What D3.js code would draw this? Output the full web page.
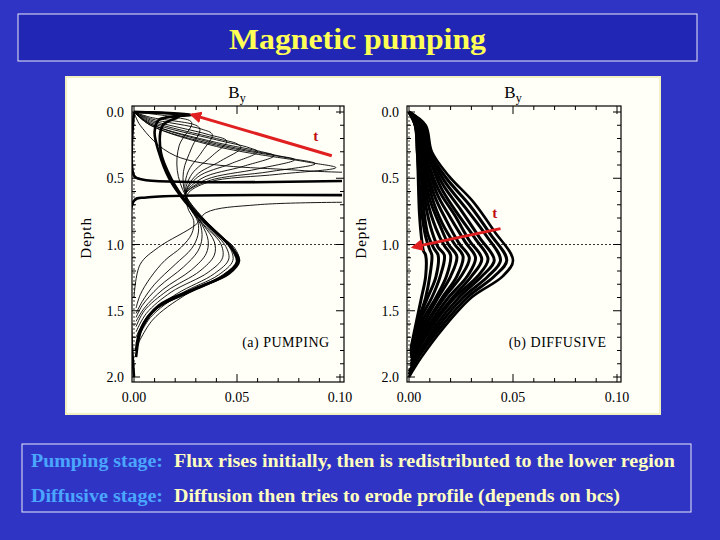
<!DOCTYPE html>
<html><head><meta charset="utf-8">
<script src="https://cdn.jsdelivr.net/npm/d3@7"></script>
<style>body{margin:0;background:#3034c4}</style></head>
<body><svg id="c" width="720" height="540"></svg>
<script>
const title = "Magnetic pumping";
const xTicks = [0, 0.05, 0.10];
const yTicks = [0, 0.5, 1.0, 1.5, 2.0];
const noteLabels = ["Pumping stage:", "Diffusive stage:"];
const noteTexts = ["Flux rises initially, then is redistributed to the lower region",
                   "Diffusion then tries to erode profile (depends on bcs)"];
const noteWidths = [501, 446];
// panel (a): initial profile (thick) and pumping curves [By, depth]
const pumpThick = [
  [[0,0],[0,0.48],[0.004,0.51],[0.12,0.515]],
  [[0.12,0.63],[0.006,0.645],[0,0.67],[0,2.0]],
  [[0,0],[0.028,0.02],[0.012,0.06],[0.01,0.15],[0.012,0.3],[0.017,0.5],[0.025,0.68],[0.036,0.85],[0.046,1.0],[0.051,1.12],[0.046,1.22],[0.03,1.33],[0.012,1.46],[0.004,1.62],[0.001,1.85]],
  [[0,0],[0.022,0.03],[0.014,0.1],[0.013,0.3],[0.018,0.5],[0.026,0.69],[0.037,0.87],[0.047,1.02],[0.05,1.13],[0.044,1.23],[0.028,1.35],[0.011,1.48],[0.003,1.65],[0.001,1.8]]
];
const pumpThin = [
  [[0,0],[0.003,0.1],[0.02,0.33],[0.08,0.44],[0.12,0.46]],
  [[0.12,0.68],[0.06,0.7],[0.035,0.76],[0.03,0.85],[0.012,1.02],[0.003,1.15],[0,1.4]],
  [[0,0],[0.008,0.1],[0.04,0.26],[0.085,0.38],[0.098,0.42],[0.07,0.47],[0.036,0.53],[0.026,0.62],[0.026,0.72],[0.029,0.82],[0.028,0.92],[0.023,1.02],[0.015,1.12],[0.008,1.25],[0.003,1.38],[0.001,1.48]],
  [[0,0],[0.008,0.1],[0.04,0.25],[0.076,0.35],[0.088,0.39],[0.066,0.45],[0.036,0.52],[0.025,0.62],[0.027,0.72],[0.031,0.83],[0.031,0.93],[0.028,1.03],[0.02,1.15],[0.01,1.3],[0.004,1.43],[0.001,1.52]],
  [[0,0],[0.008,0.09],[0.04,0.24],[0.07,0.33],[0.078,0.36],[0.06,0.43],[0.035,0.51],[0.025,0.62],[0.027,0.72],[0.032,0.84],[0.033,0.95],[0.031,1.05],[0.024,1.17],[0.012,1.32],[0.004,1.46],[0.001,1.55]],
  [[0,0],[0.008,0.09],[0.04,0.23],[0.062,0.3],[0.068,0.33],[0.053,0.41],[0.033,0.5],[0.025,0.62],[0.028,0.73],[0.033,0.85],[0.036,0.97],[0.035,1.07],[0.028,1.19],[0.014,1.34],[0.005,1.48],[0.001,1.58]],
  [[0,0],[0.008,0.08],[0.04,0.21],[0.056,0.27],[0.06,0.3],[0.047,0.39],[0.031,0.49],[0.025,0.62],[0.028,0.74],[0.034,0.86],[0.039,0.98],[0.039,1.08],[0.032,1.2],[0.016,1.35],[0.005,1.5],[0.001,1.62]],
  [[0,0],[0.008,0.07],[0.04,0.2],[0.05,0.24],[0.052,0.27],[0.042,0.37],[0.03,0.48],[0.025,0.62],[0.029,0.75],[0.035,0.87],[0.042,0.99],[0.043,1.1],[0.036,1.21],[0.018,1.36],[0.006,1.52],[0.001,1.66]],
  [[0,0],[0.008,0.06],[0.036,0.17],[0.045,0.22],[0.038,0.33],[0.028,0.47],[0.025,0.62],[0.03,0.76],[0.037,0.89],[0.044,1.0],[0.046,1.11],[0.039,1.22],[0.021,1.37],[0.007,1.53],[0.001,1.7]],
  [[0,0],[0.008,0.05],[0.033,0.13],[0.038,0.17],[0.033,0.3],[0.026,0.46],[0.025,0.62],[0.031,0.77],[0.039,0.9],[0.046,1.01],[0.048,1.12],[0.041,1.23],[0.023,1.37],[0.008,1.55],[0.001,1.74]],
  [[0,0],[0.008,0.04],[0.03,0.1],[0.032,0.13],[0.028,0.27],[0.024,0.45],[0.025,0.62],[0.032,0.78],[0.04,0.91],[0.048,1.02],[0.05,1.13],[0.043,1.23],[0.025,1.38],[0.009,1.57],[0.001,1.78]],
  [[0,0],[0.02,0.04],[0.028,0.08],[0.022,0.25],[0.021,0.44],[0.025,0.63],[0.033,0.79],[0.041,0.92],[0.049,1.03],[0.051,1.13],[0.044,1.24],[0.027,1.36],[0.01,1.5],[0.002,1.7]]
];
// panel (b): diffusive curves [By, depth]
const diffCurves = [
  [[0,0],[0.008,0.1],[0.011,0.3],[0.019,0.48],[0.031,0.68],[0.041,0.9],[0.05,1.12],[0.045,1.24],[0.03,1.4],[0.016,1.64],[0.006,1.85],[0,2.0]],
  [[0,0],[0.007,0.1],[0.01,0.3],[0.018,0.5],[0.029,0.7],[0.039,0.92],[0.047,1.12],[0.041,1.24],[0.028,1.4],[0.015,1.63],[0.005,1.84],[0,1.98]],
  [[0,0],[0.007,0.1],[0.01,0.3],[0.017,0.52],[0.027,0.72],[0.037,0.93],[0.044,1.12],[0.038,1.24],[0.026,1.4],[0.014,1.62],[0.005,1.83],[0,1.96]],
  [[0,0],[0.006,0.1],[0.009,0.3],[0.016,0.54],[0.025,0.74],[0.034,0.95],[0.041,1.12],[0.035,1.24],[0.024,1.4],[0.013,1.61],[0.005,1.82],[0.001,1.94]],
  [[0,0],[0.006,0.1],[0.009,0.3],[0.015,0.56],[0.023,0.76],[0.032,0.96],[0.038,1.11],[0.033,1.24],[0.022,1.4],[0.012,1.6],[0.004,1.81],[0.001,1.92]],
  [[0,0],[0.006,0.1],[0.008,0.3],[0.014,0.58],[0.022,0.78],[0.029,0.97],[0.035,1.11],[0.03,1.24],[0.021,1.4],[0.011,1.6],[0.004,1.8],[0.001,1.9]],
  [[0,0],[0.005,0.1],[0.008,0.3],[0.013,0.6],[0.02,0.8],[0.027,0.98],[0.032,1.1],[0.028,1.24],[0.019,1.4],[0.01,1.6],[0.004,1.79],[0.001,1.88]],
  [[0,0],[0.005,0.1],[0.007,0.3],[0.012,0.62],[0.018,0.82],[0.024,0.99],[0.029,1.1],[0.025,1.24],[0.017,1.4],[0.009,1.59],[0.004,1.78],[0.001,1.86]],
  [[0,0],[0.005,0.1],[0.007,0.3],[0.011,0.64],[0.016,0.84],[0.022,1.0],[0.026,1.09],[0.023,1.24],[0.016,1.4],[0.009,1.58],[0.003,1.77],[0.001,1.85]],
  [[0,0],[0.004,0.1],[0.006,0.3],[0.01,0.66],[0.015,0.86],[0.019,1.0],[0.023,1.09],[0.02,1.24],[0.014,1.4],[0.008,1.57],[0.003,1.76],[0.001,1.84]],
  [[0,0],[0.004,0.1],[0.006,0.3],[0.009,0.68],[0.013,0.88],[0.017,1.01],[0.02,1.08],[0.018,1.24],[0.013,1.4],[0.007,1.56],[0.003,1.75],[0.001,1.83]],
  [[0,0],[0.004,0.1],[0.005,0.3],[0.008,0.7],[0.011,0.9],[0.014,1.02],[0.017,1.08],[0.015,1.24],[0.011,1.4],[0.006,1.55],[0.003,1.74],[0.001,1.82]],
  [[0,0],[0.003,0.1],[0.005,0.3],[0.007,0.72],[0.009,0.92],[0.012,1.03],[0.014,1.08],[0.013,1.24],[0.009,1.4],[0.005,1.55],[0.002,1.73],[0.001,1.81]],
  [[0,0],[0.003,0.1],[0.004,0.3],[0.006,0.74],[0.008,0.94],[0.01,1.04],[0.011,1.08],[0.01,1.24],[0.008,1.4],[0.005,1.55],[0.002,1.72],[0.001,1.8]],
  [[0,0],[0.003,0.1],[0.004,0.3],[0.005,0.76],[0.006,0.95],[0.007,1.05],[0.008,1.08],[0.008,1.24],[0.006,1.4],[0.004,1.55],[0.002,1.7],[0.001,1.78]]
];
const arrows = [{from:[0.096,0.33], to:[0.028,0.02], lab:[0.087,0.22]},
                {from:[0.044,0.88], to:[0.002,1.02], lab:[0.04,0.8]}];

const svg = d3.select("#c");
svg.append("rect").attr("x",18).attr("y",14).attr("width",679).attr("height",47).attr("fill","#2226b4").attr("stroke","#e8e8f8").attr("stroke-width",1);
svg.append("text").attr("x",229).attr("y",49).attr("textLength",257).attr("lengthAdjust","spacingAndGlyphs").attr("font-family","Liberation Serif").attr("font-weight","bold").attr("font-size",30).attr("fill","#ffff55").text(title);
svg.append("rect").attr("x",66).attr("y",77).attr("width",594).attr("height",337).attr("fill","#fffff8").attr("stroke","#f0f0c0").attr("stroke-width",2);

const defs = svg.append("defs");
defs.append("marker").attr("id","ah").attr("viewBox","0 0 10 10").attr("refX",8).attr("refY",5)
  .attr("markerWidth",4).attr("markerHeight",4).attr("orient","auto")
  .append("path").attr("d","M0,0L10,5L0,10z").attr("fill","#e02020");

function panel(x0, x1, name, lab, draw) {
  const y0 = 112, y1 = 377;
  const x = d3.scaleLinear().domain([0,0.1]).range([x0,x1]);
  const y = d3.scaleLinear().domain([0,2]).range([y0,y1]);
  const g = svg.append("g");
  const id = "clip"+name;
  defs.append("clipPath").attr("id",id).append("rect").attr("x",x0-2).attr("y",y0-6).attr("width",x1-x0+4).attr("height",y1-y0+11);
  const bx0 = x0-2, bx1 = x1+4, by0 = y0-6, by1 = y1+5;
  g.append("rect").attr("x",bx0).attr("y",by0).attr("width",bx1-bx0).attr("height",by1-by0).attr("fill","none").attr("stroke","#000").attr("stroke-width",1.2);
  g.append("line").attr("x1",x(0)).attr("x2",x(0)).attr("y1",y(0)).attr("y2",y(2)).attr("stroke","#000").attr("stroke-dasharray","2,2").attr("stroke-width",0.8);
  g.append("line").attr("x1",x(0)).attr("x2",bx1).attr("y1",y(1)).attr("y2",y(1)).attr("stroke","#000").attr("stroke-dasharray","2,2").attr("stroke-width",0.8);
  const tk = g.append("g").attr("stroke","#000").attr("stroke-width",1);
  d3.range(0,2.0001,0.1).forEach((v,i)=>{const L = i%5===0?8:4;
    tk.append("line").attr("x1",bx0).attr("x2",bx0+L).attr("y1",y(v)).attr("y2",y(v));
    tk.append("line").attr("x1",bx1).attr("x2",bx1-L).attr("y1",y(v)).attr("y2",y(v));});
  d3.range(0,0.10001,0.01).forEach((v,i)=>{const L = i%5===0?8:4;
    tk.append("line").attr("y1",by1).attr("y2",by1-L).attr("x1",x(v)).attr("x2",x(v));
    tk.append("line").attr("y1",by0).attr("y2",by0+L).attr("x1",x(v)).attr("x2",x(v));});
  const f = {"font-family":"Liberation Serif","font-size":14,"fill":"#000"};
  yTicks.forEach(v=>{ const t=g.append("text").attr("x",bx0-8).attr("y",y(v)+5).attr("text-anchor","end").text(v.toFixed(1)); for(const k in f)t.attr(k,f[k]);});
  xTicks.forEach(v=>{ const t=g.append("text").attr("x",x(v)).attr("y",by1+20).attr("text-anchor","middle").text(v.toFixed(2)); for(const k in f)t.attr(k,f[k]);});
  const by = g.append("text").attr("x",(x0+x1)/2).attr("y",98).attr("text-anchor","middle").attr("font-family","Liberation Serif").attr("font-size",17);
  by.append("tspan").text("B"); by.append("tspan").attr("font-size",12).attr("dy",4).text("y");
  g.append("text").attr("transform",`translate(${x0-43},${y(0.95)}) rotate(-90)`).attr("text-anchor","middle").attr("font-family","Liberation Serif").attr("font-size",15).attr("letter-spacing",1).text("Depth");
  g.append("text").attr("x",x(0.095)).attr("y",y(1.77)).attr("text-anchor","end").attr("font-family","Liberation Serif").attr("font-size",14).attr("letter-spacing",0.5).text(lab);
  const line = d3.line().x(d=>x(d[0])).y(d=>y(d[1])).curve(d3.curveCatmullRom.alpha(0.5));
  const cg = g.append("g").attr("clip-path",`url(#${id})`).attr("fill","none").attr("stroke","#000");
  draw(cg, line);
  return {x,y,g};
}
const pa = panel(134, 340, "a", "(a) PUMPING", (cg,line)=>{
  pumpThin.forEach(c=>cg.append("path").attr("d",line(c)).attr("stroke-width",0.9));
  pumpThick.forEach(c=>cg.append("path").attr("d",line(c)).attr("stroke-width",2.6));
});
const pb = panel(409, 617, "b", "(b) DIFFUSIVE", (cg,line)=>{
  diffCurves.forEach((c,i)=>cg.append("path").attr("d",line(c)).attr("stroke-width",i===0?2.6:3));
});
[pa,pb].forEach((p,i)=>{const a=arrows[i];
  p.g.append("line").attr("x1",p.x(a.from[0])).attr("y1",p.y(a.from[1])).attr("x2",p.x(a.to[0])).attr("y2",p.y(a.to[1]))
    .attr("stroke","#e02020").attr("stroke-width",3).attr("marker-end","url(#ah)");
  p.g.append("text").attr("x",p.x(a.lab[0])).attr("y",p.y(a.lab[1])).attr("fill","#c01010").attr("font-family","Liberation Serif").attr("font-weight","bold").attr("font-size",15).text("t");
});

svg.append("rect").attr("x",22).attr("y",444).attr("width",669).attr("height",68).attr("fill","none").attr("stroke","#e8e8f8").attr("stroke-width",1);
noteLabels.forEach((l,i)=>{
  const yy = 467+i*35;
  svg.append("text").attr("x",31).attr("y",yy).attr("textLength",132).attr("lengthAdjust","spacingAndGlyphs").attr("font-family","Liberation Serif").attr("font-weight","bold").attr("font-size",18).attr("fill","#4aa6ff").text(l);
  svg.append("text").attr("x",174).attr("y",yy).attr("textLength",noteWidths[i]).attr("lengthAdjust","spacingAndGlyphs").attr("font-family","Liberation Serif").attr("font-weight","bold").attr("font-size",18).attr("fill","#ffffc0").text(noteTexts[i]);
});
</script></body></html>
